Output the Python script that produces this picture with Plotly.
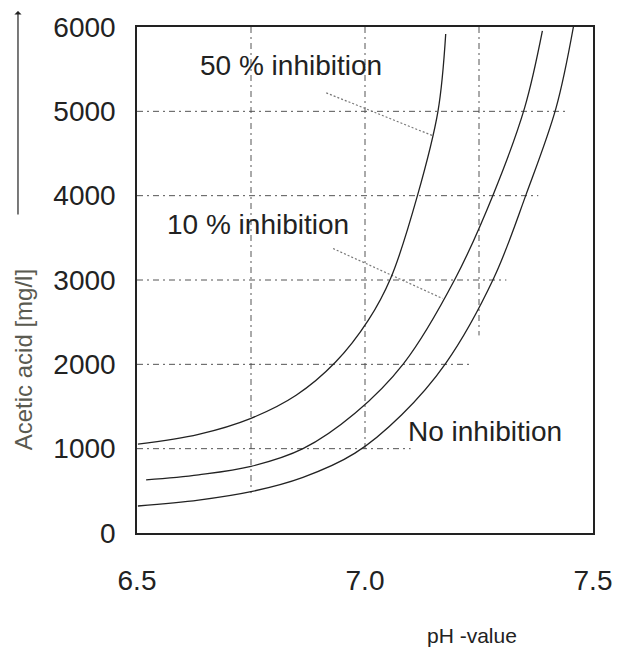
import plotly.graph_objects as go

# ---- data ----
ph_50 = [6.502, 6.635, 6.75, 6.849, 6.935, 7.007, 7.057, 7.115, 7.16, 7.177]
acid_50 = [1053, 1170, 1360, 1633, 2024, 2521, 3030, 4000, 5000, 5917]

ph_10 = [6.52, 6.635, 6.75, 6.864, 6.978, 7.085, 7.198, 7.282, 7.35, 7.389]
acid_10 = [630, 690, 790, 1000, 1420, 2012, 3018, 4024, 5041, 5953]

ph_0 = [6.502, 6.635, 6.75, 6.864, 6.978, 7.08, 7.177, 7.282, 7.354, 7.419, 7.457]
acid_0 = [320, 390, 490, 660, 947, 1400, 2012, 3018, 4024, 5041, 6000]

x_ticks = [6.5, 7.0, 7.5]
x_ticktext = ["6.5", "7.0", "7.5"]
y_ticks = [0, 1000, 2000, 3000, 4000, 5000, 6000]

# partial grid lines (value, extent)
h_grid_vals = [1000, 2000, 3000, 4000, 5000]
h_grid_ends = [7.10, 7.23, 7.31, 7.38, 7.44]
v_grid_vals = [6.75, 7.0, 7.25]
v_grid_bottoms = [473, 982, 2343]

# leader lines from labels to curves
leader_50_ph = [6.915, 7.149]
leader_50_acid = [5219, 4710]
leader_10_ph = [6.930, 7.170]
leader_10_acid = [3373, 2781]

FONT = "Liberation Sans, Arial, sans-serif"
GRID_DASH = "6px,4px,2px,4px"

fig = go.Figure()

for yv, xe in zip(h_grid_vals, h_grid_ends):
    fig.add_trace(go.Scatter(x=[6.5, xe], y=[yv, yv], mode="lines",
                             line=dict(color="#555", width=1, dash=GRID_DASH),
                             hoverinfo="skip", showlegend=False))
for xv, yb in zip(v_grid_vals, v_grid_bottoms):
    fig.add_trace(go.Scatter(x=[xv, xv], y=[6000, yb], mode="lines",
                             line=dict(color="#555", width=1, dash=GRID_DASH),
                             hoverinfo="skip", showlegend=False))

for lx, ly in [(leader_50_ph, leader_50_acid), (leader_10_ph, leader_10_acid)]:
    fig.add_trace(go.Scatter(x=lx, y=ly, mode="lines",
                             line=dict(color="#777", width=1.2, dash="2px,2px"),
                             hoverinfo="skip", showlegend=False))

for xs, ys, name in [(ph_50, acid_50, "50 % inhibition"),
                     (ph_10, acid_10, "10 % inhibition"),
                     (ph_0, acid_0, "No inhibition")]:
    fig.add_trace(go.Scatter(x=xs, y=ys, mode="lines", name=name,
                             line=dict(color="#222", width=1.3, shape="spline", smoothing=1.0),
                             cliponaxis=False, showlegend=False))

annos = [
    dict(x=6.838, y=5538, text="50 % inhibition"),
    dict(x=6.766, y=3657, text="10 % inhibition"),
    dict(x=7.264, y=1207, text="No inhibition"),
]
for a in annos:
    fig.add_annotation(x=a["x"], y=a["y"], xref="x", yref="y", text=a["text"],
                       showarrow=False, font=dict(family=FONT, size=28, color="#222"),
                       xanchor="center", yanchor="middle")

# axis titles
fig.add_annotation(x=-0.247, y=0.342, xref="paper", yref="paper",
                   text="Acetic acid [mg/l]", textangle=-90, showarrow=False,
                   font=dict(family=FONT, size=24, color="#5a5a50"),
                   xanchor="center", yanchor="middle")
fig.add_annotation(x=0.735, y=-0.202, xref="paper", yref="paper",
                   text="pH -value", showarrow=False,
                   font=dict(family=FONT, size=21, color="#222"),
                   xanchor="center", yanchor="middle")
# upward arrow next to y title
fig.add_annotation(x=-0.261, y=1.0316, xref="paper", yref="paper", text="",
                   showarrow=True, ax=0, ay=205, arrowhead=1, arrowsize=1,
                   arrowwidth=1.2, arrowcolor="#222")

fig.update_layout(
    width=624, height=651,
    margin=dict(l=137, r=20, t=26, b=118),
    paper_bgcolor="white", plot_bgcolor="white",
    showlegend=False,
    font=dict(family=FONT, color="#222"),
    xaxis=dict(range=[6.5, 7.5], tickvals=x_ticks, ticktext=x_ticktext,
               showgrid=False, zeroline=False, showline=True, mirror=True,
               linecolor="#222", linewidth=1.5, ticks="",
               tickfont=dict(family=FONT, size=28, color="#222"),
               ticklabelstandoff=22),
    yaxis=dict(range=[0, 6000], tickvals=y_ticks,
               showgrid=False, zeroline=False, showline=True, mirror=True,
               linecolor="#222", linewidth=1.5, ticks="",
               tickfont=dict(family=FONT, size=28, color="#222"),
               ticklabelstandoff=14),
)

fig.write_html("out.html")
